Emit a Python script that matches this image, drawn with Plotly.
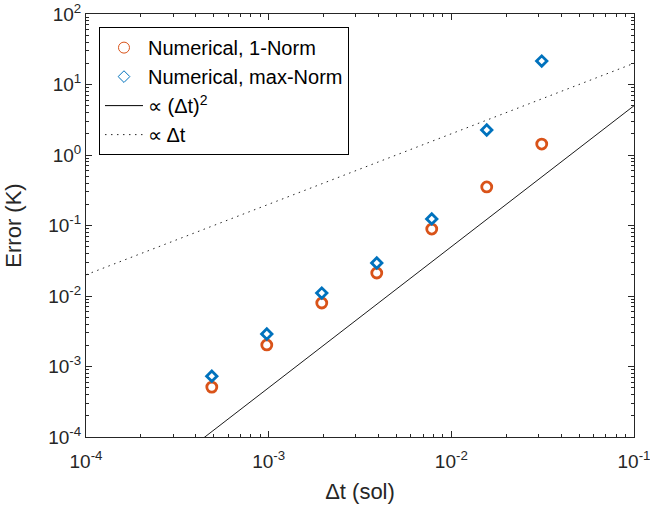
import plotly.graph_objects as go

# Data
dt = [1/2048, 1/1024, 1/512, 1/256, 1/128, 1/64, 1/32]
err_1norm = [5.1e-4, 2.02e-3, 7.96e-3, 0.0212, 0.089, 0.352, 1.43]
err_maxnorm = [7.3e-4, 2.89e-3, 0.0110, 0.0294, 0.124, 2.26, 21.5]
ref_x = [1e-4, 1e-1]
coef_sq = 500.0
coef_lin = 200.0
ref_sq = [coef_sq * v**2 for v in ref_x]
ref_lin = [coef_lin * v for v in ref_x]

x_tickvals = [1e-4, 1e-3, 1e-2, 1e-1]
x_ticktext = ["10<sup>-4</sup>", "10<sup>-3</sup>", "10<sup>-2</sup>", "10<sup>-1</sup>"]
y_tickvals = [1e-4, 1e-3, 1e-2, 1e-1, 1e0, 1e1, 1e2]
y_ticktext = ["10<sup>-4</sup>", "10<sup>-3</sup>", "10<sup>-2</sup>", "10<sup>-1</sup>",
              "10<sup>0</sup>", "10<sup>1</sup>", "10<sup>2</sup>"]

orange = "#D95319"
blue = "#0072BD"
dark = "#262626"
font_family = "Liberation Sans, Arial, sans-serif"

fig = go.Figure()

# reference lines
fig.add_trace(go.Scatter(x=ref_x, y=ref_sq, mode="lines",
                         line=dict(color="#000000", width=0.9),
                         showlegend=False, hoverinfo="skip"))
fig.add_trace(go.Scatter(x=ref_x, y=ref_lin, mode="lines",
                         line=dict(color=dark, width=1, dash="1.5px,4.5px"),
                         showlegend=False, hoverinfo="skip"))

# data
fig.add_trace(go.Scatter(x=dt, y=err_1norm, mode="markers",
                         marker=dict(symbol="circle-open", size=10, color=orange,
                                     line=dict(width=2.8, color=orange)),
                         showlegend=False))
fig.add_trace(go.Scatter(x=dt, y=err_maxnorm, mode="markers",
                         marker=dict(symbol="diamond-open", size=8, color=blue,
                                     line=dict(width=2.8, color=blue)),
                         showlegend=False))

# legend-only entries (thin markers as in reference legend)
fig.add_trace(go.Scatter(x=[None], y=[None], mode="markers", name="Numerical, 1-Norm",
                         marker=dict(symbol="circle-open", size=11, color=orange,
                                     line=dict(width=1, color=orange))))
fig.add_trace(go.Scatter(x=[None], y=[None], mode="markers", name="Numerical, max-Norm",
                         marker=dict(symbol="diamond-open", size=9, color=blue,
                                     line=dict(width=1, color=blue))))
fig.add_trace(go.Scatter(x=[None], y=[None], mode="lines", name="\u221d (\u0394t)<sup>2</sup>",
                         line=dict(color="#000000", width=1)))
fig.add_trace(go.Scatter(x=[None], y=[None], mode="lines", name="\u221d \u0394t",
                         line=dict(color=dark, width=1, dash="1.5px,4.5px")))

axis_common = dict(
    type="log",
    showgrid=False,
    zeroline=False,
    showline=True,
    linecolor=dark,
    linewidth=1,
    mirror="ticks",
    ticks="inside",
    ticklen=6,
    tickwidth=1,
    tickcolor=dark,
    automargin=False,
    ticklabeloverflow="allow",
    tickfont=dict(family=font_family, size=19, color=dark),
)

minor_vals = [m * 10**k for k in range(-5, 3) for m in range(2, 10)]

fig.update_xaxes(**axis_common, range=[-4, -1], tickvals=x_tickvals, ticktext=x_ticktext,
                 ticklabelstandoff=7,
                 minor=dict(tickvals=minor_vals, ticks="inside", ticklen=3, tickcolor=dark, tickwidth=1),
                 title=dict(text="\u0394t (sol)", font=dict(family=font_family, size=22, color=dark),
                            standoff=12))
fig.update_yaxes(**axis_common, range=[-4, 2], tickvals=y_tickvals, ticktext=y_ticktext,
                 minor=dict(tickvals=minor_vals, ticks="inside", ticklen=3, tickcolor=dark, tickwidth=1),
                 title=dict(text="Error (K)", font=dict(family=font_family, size=22, color=dark),
                            standoff=20))

fig.update_layout(
    width=650, height=506,
    margin=dict(l=86, r=16, t=14, b=69, pad=0, autoexpand=False),
    paper_bgcolor="white",
    plot_bgcolor="white",
    font=dict(family=font_family, size=19, color=dark),
    legend=dict(x=0.0237, y=0.969, xanchor="left", yanchor="top",
                bgcolor="white", bordercolor="#000000", borderwidth=1,
                font=dict(family=font_family, size=20, color="#000000"),
                itemwidth=38, tracegroupgap=0),
    showlegend=True,
)

fig.write_html("out.html")
